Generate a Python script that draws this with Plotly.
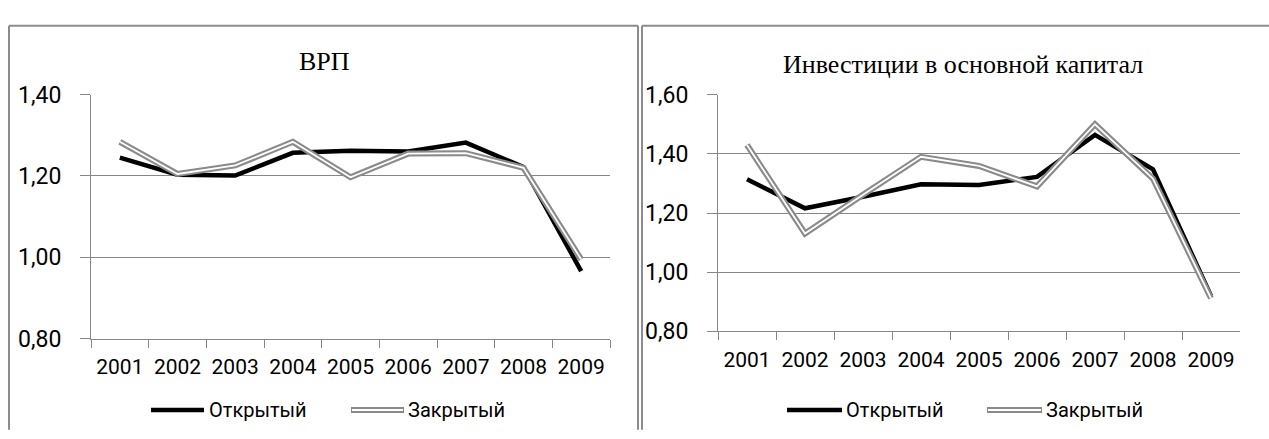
import plotly.graph_objects as go

# ---------------- data ----------------
years = ["2001", "2002", "2003", "2004", "2005", "2006", "2007", "2008", "2009"]
series_names = ["Открытый", "Закрытый"]
titles = ["ВРП", "Инвестиции в основной капитал"]

vrp_open = [1.245, 1.203, 1.201, 1.257, 1.262, 1.260, 1.282, 1.222, 0.966]
vrp_closed = [1.284, 1.205, 1.226, 1.284, 1.197, 1.255, 1.256, 1.220, 0.995]
inv_open = [1.314, 1.216, 1.255, 1.297, 1.295, 1.322, 1.464, 1.348, 0.920]
inv_closed = [1.430, 1.131, 1.262, 1.390, 1.359, 1.290, 1.500, 1.316, 0.912]

left_ticks = [0.8, 1.0, 1.2, 1.4]
right_ticks = [0.8, 1.0, 1.2, 1.4, 1.6]

# ---------------- layout helpers ----------------
W, H = 1269, 439


def px(x):
    return x / W


def py(y):
    return 1 - y / H


BORDER = "#8c8c8c"
GRID = "#878787"
GRAY_LINE = "#8a8a8a"
TICK_FONT = "Roboto, 'Liberation Sans', sans-serif"
TITLE_FONT = "'Liberation Serif', 'DejaVu Serif', serif"

fig = go.Figure()


def add_pair(op, cl, xa, ya):
    fig.add_trace(go.Scatter(x=years, y=op, mode="lines", xaxis=xa, yaxis=ya,
                             line=dict(color="#000000", width=4.5), showlegend=False,
                             name=series_names[0]))
    fig.add_trace(go.Scatter(x=years, y=cl, mode="lines", xaxis=xa, yaxis=ya,
                             line=dict(color=GRAY_LINE, width=6), showlegend=False,
                             name=series_names[1]))
    fig.add_trace(go.Scatter(x=years, y=cl, mode="lines", xaxis=xa, yaxis=ya,
                             line=dict(color="#ffffff", width=1.8), showlegend=False,
                             hoverinfo="skip"))


add_pair(vrp_open, vrp_closed, "x", "y")
add_pair(inv_open, inv_closed, "x2", "y2")

xcommon = dict(type="category", range=[-0.5, 8.5], showline=True, linecolor=GRID, linewidth=1,
               ticks="outside", tickson="boundaries", ticklen=8, tickcolor=GRID,
               showgrid=False, zeroline=False, ticklabelstandoff=9,
               tickfont=dict(family=TICK_FONT, size=21, color="#000"))
ycommon = dict(showline=True, linecolor=GRID, linewidth=1, ticks="outside", ticklen=10,
               tickcolor=GRID, showgrid=True, gridcolor=GRID, gridwidth=1, zeroline=False,
               tickformat=".2f", ticklabelstandoff=14,
               tickfont=dict(family=TICK_FONT, size=23, color="#000"))

fig.update_layout(
    width=W, height=H, margin=dict(l=0, r=0, t=0, b=0),
    paper_bgcolor="white", plot_bgcolor="white", separators=", ",
    xaxis=dict(domain=[px(91), px(610)], anchor="y", **xcommon),
    yaxis=dict(domain=[py(347), py(87)], anchor="x", range=[0.8, 1.4],
               tickvals=left_ticks, **ycommon),
    xaxis2=dict(domain=[px(718), px(1240)], anchor="y2", **xcommon),
    yaxis2=dict(domain=[py(339.3), py(87)], anchor="x2", range=[0.8, 1.6],
                tickvals=right_ticks, **ycommon),
)

shapes = []
# panel borders
for x0, x1 in [(9, 638), (642, W + 5)]:
    shapes.append(dict(type="line", xref="paper", yref="paper", x0=px(x0), x1=px(x1),
                       y0=py(13.5), y1=py(13.5), line=dict(color=BORDER, width=2)))
for xv in [9, 638, 642]:
    shapes.append(dict(type="line", xref="paper", yref="paper", x0=px(xv), x1=px(xv),
                       y0=py(13.5), y1=py(H + 5), line=dict(color=BORDER, width=2)))

annotations = []
# titles
annotations.append(dict(text=titles[0], xref="paper", yref="paper", x=px(324), y=py(52),
                        showarrow=False, xanchor="center", yanchor="middle",
                        font=dict(family=TITLE_FONT, size=26, color="#000")))
annotations.append(dict(text=titles[1], xref="paper", yref="paper", x=px(963), y=py(55),
                        showarrow=False, xanchor="center", yanchor="middle",
                        font=dict(family=TITLE_FONT, size=26, color="#000")))

# manual legends
legend_y = 423
for (b0, b1, bt, g0, g1, gt) in [(151, 204, 207, 351, 404, 406),
                                 (787, 842, 844, 987, 1042, 1044)]:
    shapes.append(dict(type="line", xref="paper", yref="paper", x0=px(b0), x1=px(b1),
                       y0=py(legend_y), y1=py(legend_y),
                       line=dict(color="#000", width=4.5)))
    shapes.append(dict(type="line", xref="paper", yref="paper", x0=px(g0), x1=px(g1),
                       y0=py(legend_y), y1=py(legend_y),
                       line=dict(color=GRAY_LINE, width=6)))
    shapes.append(dict(type="line", xref="paper", yref="paper", x0=px(g0 + 1), x1=px(g1 - 1),
                       y0=py(legend_y), y1=py(legend_y),
                       line=dict(color="#ffffff", width=1.8)))
    annotations.append(dict(text=series_names[0], xref="paper", yref="paper", x=px(bt),
                            y=py(legend_y), showarrow=False, xanchor="left", yanchor="middle",
                            font=dict(family=TICK_FONT, size=20, color="#000")))
    annotations.append(dict(text=series_names[1], xref="paper", yref="paper", x=px(gt),
                            y=py(legend_y), showarrow=False, xanchor="left", yanchor="middle",
                            font=dict(family=TICK_FONT, size=20, color="#000")))

fig.update_layout(shapes=shapes, annotations=annotations)
fig.write_html("out.html", config={"displayModeBar": False},
               post_script="document.body.style.margin='0';document.body.style.overflow='hidden';")
